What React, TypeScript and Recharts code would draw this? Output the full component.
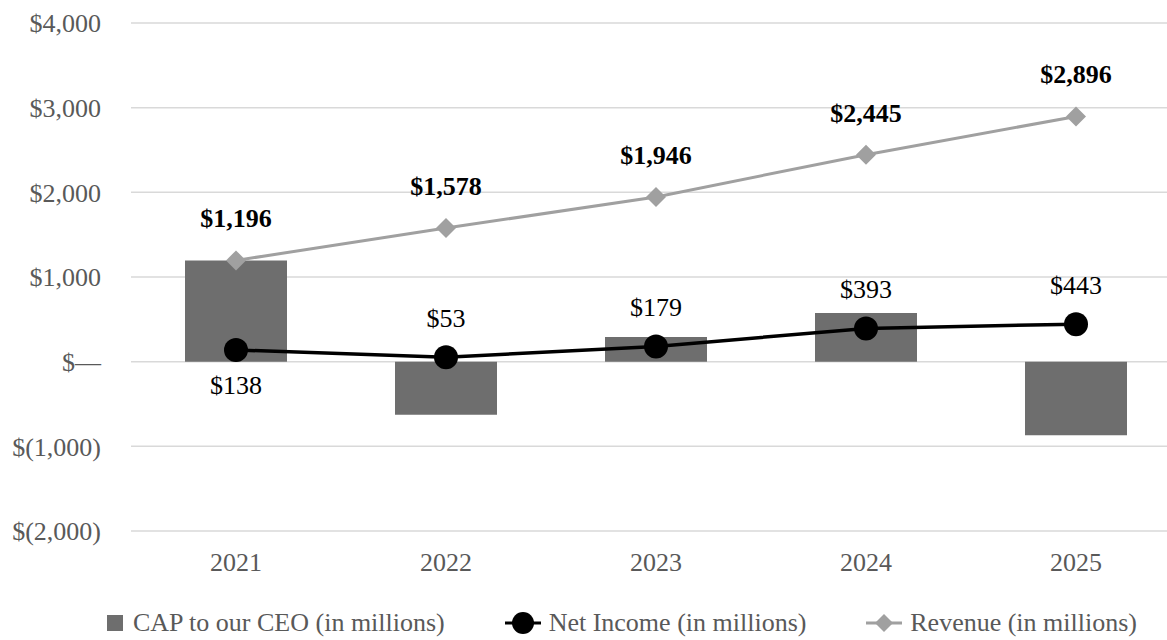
import {
  ComposedChart,
  Bar,
  Line,
  XAxis,
  YAxis,
  CartesianGrid,
  Legend,
  LabelList,
} from 'recharts';

const years = ['2021', '2022', '2023', '2024', '2025'];
const capToCeo = [1195, -628, 290, 575, -868];
const netIncome = [138, 53, 179, 393, 443];
const revenue = [1196, 1578, 1946, 2445, 2896];
const yTicks = [-2000, -1000, 0, 1000, 2000, 3000, 4000];

const data = years.map((year, i) => ({
  year,
  cap: capToCeo[i],
  net: netIncome[i],
  rev: revenue[i],
}));

const FONT = '"Liberation Serif", "DejaVu Serif", serif';
const BAR = '#6e6e6e';
const REV = '#a0a0a0';
const FS = 26;

const fmtMoney = (v: number) => {
  if (v === 0) return '$\u2014';
  const s = Math.abs(v).toLocaleString('en-US');
  return v < 0 ? `$(${s})` : `$${s}`;
};

const Diamond = (props: any) => {
  const { cx, cy } = props;
  if (cx == null || cy == null) return null;
  const r = 10;
  return (
    <polygon
      points={`${cx},${cy - r} ${cx + r},${cy} ${cx},${cy + r} ${cx - r},${cy}`}
      fill={REV}
    />
  );
};

const NetLabel = (props: any) => {
  const { x, y, value, index } = props;
  // first point's label sits under the marker
  const dy = index === 0 ? 38 : -36;
  return (
    <text x={x} y={y + dy} textAnchor="middle" dominantBaseline="middle"
      fontFamily={FONT} fontSize={FS} fill="#000">
      ${value}
    </text>
  );
};

const RevLabel = (props: any) => {
  const { x, y, value } = props;
  return (
    <text x={x} y={y - 39} textAnchor="middle" dominantBaseline="middle"
      fontFamily={FONT} fontSize={FS} fontWeight={700} fill="#000">
      {fmtMoney(value)}
    </text>
  );
};

const legendItems = [
  { key: 'cap', label: 'CAP to our CEO (in millions)' },
  { key: 'net', label: 'Net Income (in millions)' },
  { key: 'rev', label: 'Revenue (in millions)' },
];

const LegendContent = () => (
  <div style={{
    display: 'flex', alignItems: 'center', justifyContent: 'space-between',
    height: 30, width: 1030, fontFamily: FONT, fontSize: FS, color: '#595959',
  }}>
    {legendItems.map(item => (
      <div key={item.key} style={{ display: 'flex', alignItems: 'center', whiteSpace: 'nowrap' }}>
        {item.key === 'cap' ? (
          <svg width={16} height={24} style={{ marginRight: 10 }}>
            <rect x={0} y={4} width={16} height={16} fill={BAR} />
          </svg>
        ) : (
          <svg width={36} height={26} style={{ marginRight: 8 }}>
            {item.key === 'net' ? (
              <>
                <line x1={0} y1={13} x2={36} y2={13} stroke="#000" strokeWidth={3} />
                <circle cx={18} cy={13} r={11} fill="#000" />
              </>
            ) : (
              <>
                <line x1={0} y1={13} x2={36} y2={13} stroke={REV} strokeWidth={3} />
                <polygon points="18,4 27,13 18,22 9,13" fill={REV} />
              </>
            )}
          </svg>
        )}
        <span>{item.label}</span>
      </div>
    ))}
  </div>
);

export default function App() {
  return (
    <div style={{ position: 'absolute', left: 0, top: 0, width: 1167, height: 640, overflow: 'hidden', background: '#fff' }}>
      <ComposedChart
        width={1181}
        height={640}
        data={data}
        margin={{ top: 23, right: 0, bottom: 34, left: 0 }}
      >
        <CartesianGrid vertical={false} stroke="#d9d9d9" strokeWidth={1.5} />
        <XAxis
          dataKey="year"
          axisLine={false}
          tickLine={false}
          tickMargin={16}
          height={45}
          tick={{ fontFamily: FONT, fontSize: FS, fill: '#595959' }}
        />
        <YAxis
          width={131}
          domain={[-2000, 4000]}
          ticks={yTicks}
          interval={0}
          axisLine={false}
          tickLine={false}
          tickMargin={24}
          tickFormatter={fmtMoney}
          tick={{ fontFamily: FONT, fontSize: FS, fill: '#595959' }}
        />
        <Legend
          verticalAlign="bottom"
          content={<LegendContent />}
          wrapperStyle={{ left: 107, bottom: 2, width: 1030, height: 30 }}
        />
        <Bar dataKey="cap" fill={BAR} barSize={102} isAnimationActive={false} />
        <Line
          dataKey="net"
          stroke="#000"
          strokeWidth={3.5}
          dot={{ r: 12, fill: '#000', stroke: '#000', strokeWidth: 0 }}
          activeDot={false}
          isAnimationActive={false}
        >
          <LabelList dataKey="net" content={<NetLabel />} />
        </Line>
        <Line
          dataKey="rev"
          stroke={REV}
          strokeWidth={3}
          dot={<Diamond />}
          activeDot={false}
          isAnimationActive={false}
        >
          <LabelList dataKey="rev" content={<RevLabel />} />
        </Line>
      </ComposedChart>
    </div>
  );
}
